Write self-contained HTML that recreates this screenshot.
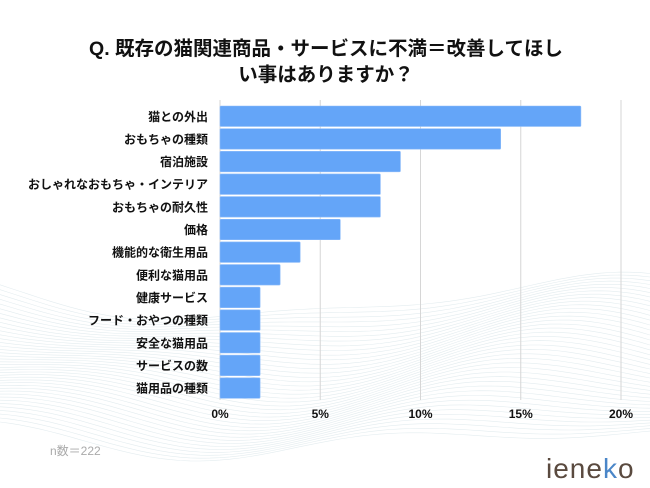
<!DOCTYPE html>
<html style="height:488px;overflow:hidden"><head><meta charset="utf-8"><style>
body{margin:0;width:650px;height:488px;background:#fff;overflow:hidden;font-family:"Liberation Sans","Noto Sans CJK JP",sans-serif;}
svg{display:block;overflow:hidden}
</style></head><body>
<svg width="650" height="488" xmlns="http://www.w3.org/2000/svg">
<g id="waves"></g>
<text x="326" y="55" text-anchor="middle" font-size="19.5" font-weight="bold" fill="#111" font-family="Liberation Sans,Noto Sans CJK JP,sans-serif">Q. 既存の猫関連商品・サービスに不満＝改善してほし</text>
<text x="326" y="81" text-anchor="middle" font-size="19.5" font-weight="bold" fill="#111" font-family="Liberation Sans,Noto Sans CJK JP,sans-serif">い事はありますか？</text>
<g id="grid"></g><g id="bars"></g><g id="labels"></g><g id="ticks"></g>
<text x="50" y="455" font-size="12" fill="#aaa" font-family="Liberation Sans,Noto Sans CJK JP,sans-serif">n数＝222</text>
<text x="546" y="478" font-size="28" fill="#5a4a3f" font-family="Liberation Sans,sans-serif" letter-spacing="1">iene<tspan fill="#4a86c8">k</tspan>o</text>
</svg>
<script>
const categories=["猫との外出","おもちゃの種類","宿泊施設","おしゃれなおもちゃ・インテリア","おもちゃの耐久性","価格","機能的な衛生用品","便利な猫用品","健康サービス","フード・おやつの種類","安全な猫用品","サービスの数","猫用品の種類"];
const values=[18,14,9,8,8,6,4,3,2,2,2,2,2];
const tickValues=[0,5,10,15,20];
const tickLabels=["0%","5%","10%","15%","20%"];
const NS="http://www.w3.org/2000/svg";
const x0=220,x1=621,xMax=20,yTop=106,pitch=22.65,bh=20.5;
const xs=v=>x0+(x1-x0)*v/xMax;
const ys=i=>yTop+i*pitch;
function mk(t,a,p){const e=document.createElementNS(NS,t);for(const k in a)e.setAttribute(k,a[k]);document.getElementById(p).appendChild(e);return e;}
const w=document.getElementById('waves');
for(let k=0;k<40;k++){const off=k*3.6;let d="";for(let x=0;x<=650;x+=10){let y=300+off+22*Math.sin((x-80)/105)*Math.cos(k/40)+10*Math.sin(x/60+k/8);y=Math.min(y,486);d+=(x?"L":"M")+x+" "+y.toFixed(1);}
const p=document.createElementNS(NS,'path');p.setAttribute('d',d);p.setAttribute('fill','none');p.setAttribute('stroke','#e3ecef');p.setAttribute('stroke-width','0.6');


w.appendChild(p);}
tickValues.forEach((v,i)=>{
const g=mk('line',{x1:xs(v),x2:xs(v),y1:100,y2:400,stroke:'#d6d6d6','stroke-width':1},'grid');


const t=mk('text',{x:xs(v),y:418,'text-anchor':'middle','font-size':12,'font-weight':'bold',fill:'#111'},'ticks');
t.textContent=tickLabels[i];


});
categories.forEach((c,i)=>{
const r=mk('rect',{x:x0,y:ys(i),width:xs(values[i])-x0,height:bh,fill:'#64a5f8',stroke:'#8fbdfa','stroke-width':0.6,rx:1},'bars');


const t=mk('text',{x:208,y:ys(i)+bh/2+4.5,'text-anchor':'end','font-size':12,'font-weight':'bold',fill:'#111','font-family':'Liberation Sans,Noto Sans CJK JP,sans-serif'},'labels');
t.textContent=c;


});
</script>
</body></html>
